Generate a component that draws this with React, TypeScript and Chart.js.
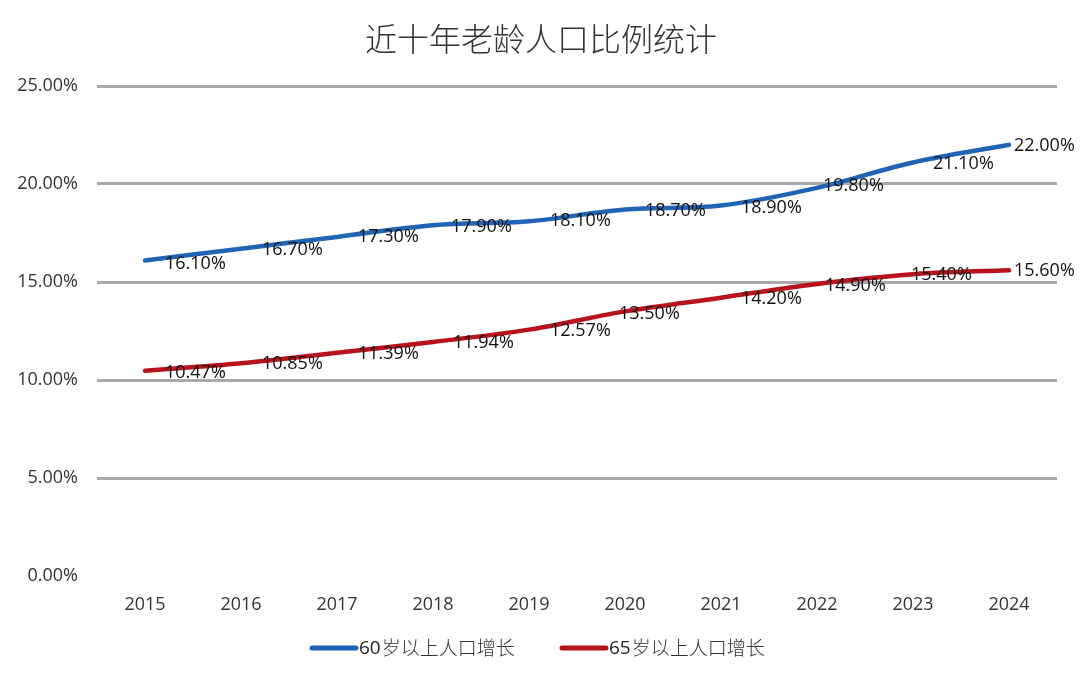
import React, { useEffect, useRef } from "react";
import { Chart, registerables } from "chart.js";

Chart.register(...registerables);

const chartTitle = "近十年老龄人口比例统计";
const years = ["2015", "2016", "2017", "2018", "2019", "2020", "2021", "2022", "2023", "2024"];
const seriesNames = ["60岁以上人口增长", "65岁以上人口增长"];
const over60 = [16.1, 16.7, 17.3, 17.9, 18.1, 18.7, 18.9, 19.8, 21.1, 22.0];
const over65 = [10.47, 10.85, 11.39, 11.94, 12.57, 13.5, 14.2, 14.9, 15.4, 15.6];
const yTicks = [0, 5, 10, 15, 20, 25];

const colors = ["#1f64b5", "#b8121d"];
// horizontal nudges of the value labels (px from point)
const labelDx = [
  [20, 21, 21, 18, 21, 20, 20, 6, 20, 5],
  [20, 21, 21, 20, 21, -6, 20, 8, -2, 5],
];
const labelDy = [
  [3, 1, 0, 2, 0, 1, 2, -2, 1, 1],
  [2, 1, 1, 1, 1, 2, 1, 2, 1, 1],
];

const SANS = "'Open Sans', 'Noto Sans CJK SC', sans-serif";

const decorPlugin = {
  id: "decor",
  afterDatasetsDraw(chart: any) {
    const ctx = chart.ctx;
    ctx.save();
    ctx.font = `18px ${SANS}`;
    ctx.fillStyle = "#111";
    ctx.textBaseline = "middle";
    ctx.textAlign = "left";
    chart.data.datasets.forEach((ds: any, di: number) => {
      const meta = chart.getDatasetMeta(di);
      meta.data.forEach((pt: any, i: number) => {
        const v = ds.data[i] as number;
        ctx.fillText(v.toFixed(2) + "%", pt.x + labelDx[di][i], pt.y + labelDy[di][i]);
      });
    });
    ctx.restore();
  },
  afterDraw(chart: any) {
    const ctx = chart.ctx;
    const w = chart.width;
    ctx.save();
    // title
    ctx.font = `300 32px 'Noto Sans CJK SC', serif`;
    ctx.fillStyle = "#333";
    ctx.textAlign = "center";
    ctx.textBaseline = "middle";
    ctx.fillText(chartTitle, w / 2 + 1, 39);
    // legend
    const itemX = [310, 560];
    ctx.textAlign = "left";
    seriesNames.forEach((name, i) => {
      const x = itemX[i];
      const y = 648;
      ctx.strokeStyle = colors[i];
      ctx.lineWidth = 5;
      ctx.lineCap = "round";
      ctx.beginPath();
      ctx.moveTo(x + 2, y);
      ctx.lineTo(x + 46, y);
      ctx.stroke();
      const num = name.slice(0, 2);
      const rest = name.slice(2);
      ctx.fillStyle = "#222";
      ctx.font = `19px ${SANS}`;
      ctx.fillText(num, x + 49, y + 1);
      const nw = ctx.measureText(num).width;
      ctx.font = `300 19px 'Noto Sans CJK SC', sans-serif`;
      ctx.fillStyle = "#333";
      ctx.fillText(rest, x + 50 + nw, y);
    });
    ctx.restore();
  },
};

export default function App() {
  const ref = useRef<HTMLCanvasElement | null>(null);
  useEffect(() => {
    document.body.style.margin = "0";
    if (!ref.current) return;
    const chart = new Chart(ref.current, {
      type: "line",
      data: {
        labels: years,
        datasets: [
          {
            label: seriesNames[0],
            data: over60,
            borderColor: colors[0],
            backgroundColor: colors[0],
            borderWidth: 4.5,
            pointRadius: 0,
            tension: 0.35,
            borderCapStyle: "round",
          },
          {
            label: seriesNames[1],
            data: over65,
            borderColor: colors[1],
            backgroundColor: colors[1],
            borderWidth: 4.5,
            pointRadius: 0,
            tension: 0.35,
            borderCapStyle: "round",
          },
        ],
      },
      options: {
        animation: false,
        responsive: false,
        maintainAspectRatio: false,
        layout: { padding: { top: 86, left: 0, right: 23, bottom: 58 } },
        plugins: {
          legend: { display: false },
          title: { display: false },
          tooltip: { enabled: false },
        },
        scales: {
          x: {
            offset: true,
            grid: { display: false, drawTicks: false },
            border: { display: false },
            ticks: {
              color: "#333",
              font: { family: SANS, size: 18 },
              padding: 18,
            },
            afterFit: (s: any) => {
              s.height = 46;
            },
          },
          y: {
            min: 0,
            max: 25,
            afterBuildTicks: (s: any) => {
              s.ticks = yTicks.map((v) => ({ value: v }));
            },
            grid: {
              drawTicks: false,
              lineWidth: 3,
              color: (c: any) => (c.tick && c.tick.value === 0 ? "rgba(0,0,0,0)" : "#aaaaaa"),
            },
            border: { display: false },
            ticks: {
              color: "#333",
              font: { family: SANS, size: 18 },
              padding: 19,
              callback: (v: any) => Number(v).toFixed(2) + "%",
            },
            afterFit: (s: any) => {
              s.width = 97;
            },
          },
        },
      },
      plugins: [decorPlugin],
    });
    return () => chart.destroy();
  }, []);
  return (
    <div style={{ position: "fixed", left: 0, top: 0, width: 1080, height: 680, background: "#fff" }}>
      <canvas ref={ref} width={1080} height={680} style={{ width: 1080, height: 680 }} />
    </div>
  );
}
